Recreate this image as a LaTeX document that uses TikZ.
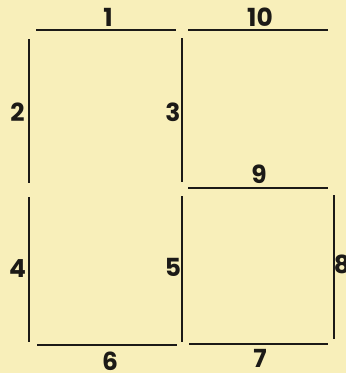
\documentclass[tikz,border=0pt]{standalone}
\usepackage{fontspec}
\setmainfont{Poppins}
\definecolor{bg}{HTML}{F8EFBA}
\definecolor{ink}{HTML}{1C1A17}
\tikzset{
  seg/.style={draw=ink, line width=2bp, line cap=butt},
  lbl/.style={text=ink, font=\fontsize{25}{25}\selectfont\bfseries, inner sep=0pt, anchor=base}
}
\begin{document}
\begin{tikzpicture}[x=1bp,y=-1bp]
\fill[bg] (0,0) rectangle (346,373);
\useasboundingbox (0,0) rectangle (346,373);
% segments
\draw[seg] (36,30) -- (176,30);
\draw[seg] (188,29.5) -- (328,29.5);
\draw[seg] (29,39) -- (29,183);
\draw[seg] (182,38) -- (182,182);
\draw[seg] (188,187.5) -- (328,187.5);
\draw[seg] (29,197) -- (29,342);
\draw[seg] (182,196) -- (182,342);
\draw[seg] (37,345) -- (177,345);
\draw[seg] (189,344) -- (328,344);
\draw[seg] (334,195) -- (334,339);
% labels
\node[lbl] (l1) at (108,26) {1};
\node[lbl] (l10) at (260,26) {10};
\node[lbl] (l2) at (17.5,121) {2};
\node[lbl] (l3) at (173,121) {3};
\node[lbl] (l9) at (259,183) {9};
\node[lbl] (l4) at (17.5,277) {4};
\node[lbl] (l5) at (173,276) {5};
\node[lbl] (l8) at (342,273) {8};
\node[lbl] (l6) at (110,370) {6};
\node[lbl] (l7) at (260,367) {7};
\end{tikzpicture}
\end{document}
